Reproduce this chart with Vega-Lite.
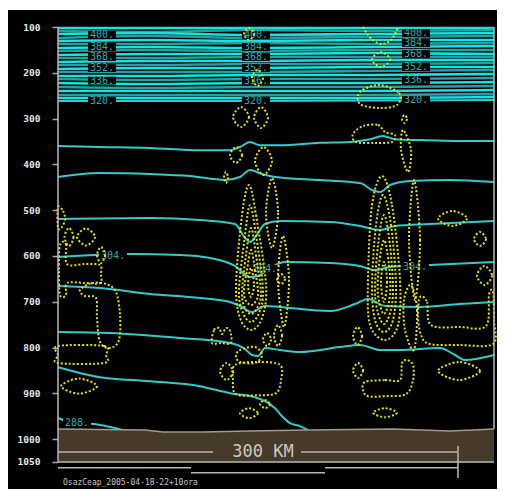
{
"$schema":"https://vega.github.io/schema/vega-lite/v6.json",
"width":489,"height":479,
"autosize":{"type":"none"},
"padding":{"left":8,"top":10,"right":8,"bottom":2},
"background":"white",
"config":{"view":{"fill":"black","stroke":null},"axisY":{"title":null}},
"datasets":{
"iso":[
{"id":"b1","c":"b","km":0,"p":102.2},{"id":"b1","c":"b","km":69,"p":102.2},{"id":"b1","c":"b","km":144,"p":102.2},{"id":"b1","c":"b","km":234,"p":102.2},{"id":"b1","c":"b","km":327,"p":102.2},
{"id":"b2","c":"d","km":0,"p":108.7},{"id":"b2","c":"d","km":69,"p":110.9},{"id":"b2","c":"d","km":144,"p":106.6},{"id":"b2","c":"d","km":234,"p":108.7},{"id":"b2","c":"d","km":327,"p":106.6},
{"id":"b3","c":"b","km":0,"p":115.3},{"id":"b3","c":"b","km":69,"p":113.1},{"id":"b3","c":"b","km":144,"p":117.5},{"id":"b3","c":"b","km":234,"p":115.3},{"id":"b3","c":"b","km":327,"p":113.1},
{"id":"b4","c":"d","km":0,"p":124},{"id":"b4","c":"d","km":69,"p":119.7},{"id":"b4","c":"d","km":144,"p":124},{"id":"b4","c":"d","km":234,"p":121.8},{"id":"b4","c":"d","km":327,"p":119.7},
{"id":"b5","c":"b","km":0,"p":130.6},{"id":"b5","c":"b","km":69,"p":128.4},{"id":"b5","c":"b","km":144,"p":130.6},{"id":"b5","c":"b","km":234,"p":128.4},{"id":"b5","c":"b","km":327,"p":128.4},
{"id":"b6","c":"d","km":0,"p":137.1},{"id":"b6","c":"d","km":69,"p":137.1},{"id":"b6","c":"d","km":144,"p":134.9},{"id":"b6","c":"d","km":234,"p":137.1},{"id":"b6","c":"d","km":327,"p":134.9},
{"id":"b7","c":"b","km":0,"p":145.9},{"id":"b7","c":"b","km":69,"p":143.7},{"id":"b7","c":"b","km":144,"p":145.9},{"id":"b7","c":"b","km":234,"p":143.7},{"id":"b7","c":"b","km":327,"p":141.5},
{"id":"b8","c":"d","km":0,"p":152.4},{"id":"b8","c":"d","km":69,"p":150.2},{"id":"b8","c":"d","km":144,"p":152.4},{"id":"b8","c":"d","km":234,"p":150.2},{"id":"b8","c":"d","km":327,"p":150.2},
{"id":"b9","c":"b","km":0,"p":161.2},{"id":"b9","c":"b","km":69,"p":159},{"id":"b9","c":"b","km":144,"p":159},{"id":"b9","c":"b","km":234,"p":156.8},{"id":"b9","c":"b","km":327,"p":159},
{"id":"b10","c":"d","km":0,"p":167.7},{"id":"b10","c":"d","km":69,"p":167.7},{"id":"b10","c":"d","km":144,"p":165.5},{"id":"b10","c":"d","km":234,"p":165.5},{"id":"b10","c":"d","km":327,"p":165.5},
{"id":"b11","c":"b","km":0,"p":176.4},{"id":"b11","c":"b","km":69,"p":174.3},{"id":"b11","c":"b","km":144,"p":174.3},{"id":"b11","c":"b","km":234,"p":172.1},{"id":"b11","c":"b","km":327,"p":172.1},
{"id":"b12","c":"d","km":0,"p":183},{"id":"b12","c":"d","km":69,"p":183},{"id":"b12","c":"d","km":144,"p":180.8},{"id":"b12","c":"d","km":234,"p":180.8},{"id":"b12","c":"d","km":327,"p":178.6},
{"id":"b13","c":"b","km":0,"p":191.7},{"id":"b13","c":"b","km":69,"p":189.5},{"id":"b13","c":"b","km":144,"p":189.5},{"id":"b13","c":"b","km":234,"p":187.4},{"id":"b13","c":"b","km":327,"p":187.4},
{"id":"b14","c":"d","km":0,"p":198.3},{"id":"b14","c":"d","km":69,"p":198.3},{"id":"b14","c":"d","km":144,"p":198.3},{"id":"b14","c":"d","km":234,"p":196.1},{"id":"b14","c":"d","km":327,"p":193.9},
{"id":"b15","c":"b","km":0,"p":207},{"id":"b15","c":"b","km":69,"p":207},{"id":"b15","c":"b","km":144,"p":204.8},{"id":"b15","c":"b","km":234,"p":204.8},{"id":"b15","c":"b","km":327,"p":202.6},
{"id":"b16","c":"d","km":0,"p":213.6},{"id":"b16","c":"d","km":69,"p":215.8},{"id":"b16","c":"d","km":144,"p":213.6},{"id":"b16","c":"d","km":234,"p":213.6},{"id":"b16","c":"d","km":327,"p":211.4},
{"id":"b17","c":"b","km":0,"p":222.3},{"id":"b17","c":"b","km":69,"p":224.5},{"id":"b17","c":"b","km":144,"p":222.3},{"id":"b17","c":"b","km":234,"p":222.3},{"id":"b17","c":"b","km":327,"p":220.1},
{"id":"b18","c":"d","km":0,"p":231},{"id":"b18","c":"d","km":69,"p":233.2},{"id":"b18","c":"d","km":144,"p":231},{"id":"b18","c":"d","km":234,"p":231},{"id":"b18","c":"d","km":327,"p":228.9},
{"id":"b19","c":"b","km":0,"p":239.8},{"id":"b19","c":"b","km":69,"p":239.8},{"id":"b19","c":"b","km":144,"p":239.8},{"id":"b19","c":"b","km":234,"p":239.8},{"id":"b19","c":"b","km":327,"p":237.6},
{"id":"b20","c":"d","km":0,"p":248.5},{"id":"b20","c":"d","km":69,"p":248.5},{"id":"b20","c":"d","km":144,"p":248.5},{"id":"b20","c":"d","km":234,"p":248.5},{"id":"b20","c":"d","km":327,"p":246.3},
{"id":"b21","c":"b","km":0,"p":255.1},{"id":"b21","c":"b","km":69,"p":255.1},{"id":"b21","c":"b","km":144,"p":255.1},{"id":"b21","c":"b","km":234,"p":255.1},{"id":"b21","c":"b","km":327,"p":252.9},
{"id":"mA","c":"m","km":0,"p":261.6},{"id":"mA","c":"m","km":144,"p":261.6},{"id":"mA","c":"m","km":327,"p":259.4},
{"id":"mB","c":"m","km":0,"p":360},{"id":"mB","c":"m","km":31.5,"p":362},{"id":"mB","c":"m","km":69,"p":364},{"id":"mB","c":"m","km":106.5,"p":369},{"id":"mB","c":"m","km":129,"p":369},{"id":"mB","c":"m","km":136.5,"p":362},{"id":"mB","c":"m","km":144,"p":351},{"id":"mB","c":"m","km":151.5,"p":358},{"id":"mB","c":"m","km":166.5,"p":358},{"id":"mB","c":"m","km":196.5,"p":353},{"id":"mB","c":"m","km":219,"p":351},{"id":"mB","c":"m","km":234,"p":345},{"id":"mB","c":"m","km":243.75,"p":338},{"id":"mB","c":"m","km":252.75,"p":345},{"id":"mB","c":"m","km":271.5,"p":347},{"id":"mB","c":"m","km":301.5,"p":349},{"id":"mB","c":"m","km":327,"p":349},
{"id":"mC","c":"m","km":0,"p":427.6},{"id":"mC","c":"m","km":31.5,"p":418.8},{"id":"mC","c":"m","km":69,"p":421},{"id":"mC","c":"m","km":99,"p":425.4},{"id":"mC","c":"m","km":125.25,"p":434.1},{"id":"mC","c":"m","km":136.5,"p":427.6},{"id":"mC","c":"m","km":144,"p":412.3},{"id":"mC","c":"m","km":153,"p":421},{"id":"mC","c":"m","km":162.75,"p":427.6},{"id":"mC","c":"m","km":196.5,"p":434.1},{"id":"mC","c":"m","km":226.5,"p":440.7},{"id":"mC","c":"m","km":235.5,"p":456},{"id":"mC","c":"m","km":241.5,"p":460.4},{"id":"mC","c":"m","km":249,"p":445.1},{"id":"mC","c":"m","km":264,"p":436.3},{"id":"mC","c":"m","km":294,"p":434.1},{"id":"mC","c":"m","km":327,"p":438.5},
{"id":"mD","c":"m","km":0,"p":519.3},{"id":"mD","c":"m","km":69,"p":517.1},{"id":"mD","c":"m","km":106.5,"p":521.5},{"id":"mD","c":"m","km":132.75,"p":530.2},{"id":"mD","c":"m","km":140.25,"p":560.8},{"id":"mD","c":"m","km":144,"p":569.5},{"id":"mD","c":"m","km":148.5,"p":556.4},{"id":"mD","c":"m","km":155.25,"p":530.2},{"id":"mD","c":"m","km":166.5,"p":523.7},{"id":"mD","c":"m","km":204,"p":525.9},{"id":"mD","c":"m","km":226.5,"p":534.6},{"id":"mD","c":"m","km":241.5,"p":543.3},{"id":"mD","c":"m","km":252.75,"p":534.6},{"id":"mD","c":"m","km":279,"p":530.2},{"id":"mD","c":"m","km":327,"p":523.7},
{"id":"mE","c":"m","km":0,"p":602.3},{"id":"mE","c":"m","km":27.75,"p":597.9},{"id":"mE","c":"m","km":54,"p":595.8},{"id":"mE","c":"m","km":91.5,"p":597.9},{"id":"mE","c":"m","km":114,"p":604.5},{"id":"mE","c":"m","km":132.75,"p":621.9},{"id":"mE","c":"m","km":144,"p":646},{"id":"mE","c":"m","km":150,"p":643.8},{"id":"mE","c":"m","km":159,"p":626.3},{"id":"mE","c":"m","km":170.25,"p":613.2},{"id":"mE","c":"m","km":204,"p":615.4},{"id":"mE","c":"m","km":226.5,"p":621.9},{"id":"mE","c":"m","km":237.75,"p":630.7},{"id":"mE","c":"m","km":249,"p":624.1},{"id":"mE","c":"m","km":279,"p":619.8},{"id":"mE","c":"m","km":327,"p":613.2},
{"id":"mF","c":"m","km":0,"p":665.6},{"id":"mF","c":"m","km":31.5,"p":670},{"id":"mF","c":"m","km":69,"p":683.1},{"id":"mF","c":"m","km":106.5,"p":691.8},{"id":"mF","c":"m","km":129,"p":700.6},{"id":"mF","c":"m","km":136.5,"p":709.3},{"id":"mF","c":"m","km":145.5,"p":722.4},{"id":"mF","c":"m","km":155.25,"p":709.3},{"id":"mF","c":"m","km":166.5,"p":711.5},{"id":"mF","c":"m","km":204,"p":720.3},{"id":"mF","c":"m","km":222.75,"p":705},{"id":"mF","c":"m","km":232.5,"p":694},{"id":"mF","c":"m","km":245.25,"p":709.3},{"id":"mF","c":"m","km":271.5,"p":711.5},{"id":"mF","c":"m","km":301.5,"p":705},{"id":"mF","c":"m","km":327,"p":700.6},
{"id":"mG","c":"m","km":0,"p":766.1},{"id":"mG","c":"m","km":39,"p":768.3},{"id":"mG","c":"m","km":91.5,"p":779.2},{"id":"mG","c":"m","km":129,"p":790.1},{"id":"mG","c":"m","km":140.25,"p":803.2},{"id":"mG","c":"m","km":145.5,"p":816.3},{"id":"mG","c":"m","km":150,"p":818.5},{"id":"mG","c":"m","km":155.25,"p":801},{"id":"mG","c":"m","km":166.5,"p":805.4},{"id":"mG","c":"m","km":181.5,"p":809.8},{"id":"mG","c":"m","km":211.5,"p":798.9},{"id":"mG","c":"m","km":226.5,"p":794.5},{"id":"mG","c":"m","km":241.5,"p":805.4},{"id":"mG","c":"m","km":256.5,"p":805.4},{"id":"mG","c":"m","km":286.5,"p":801},{"id":"mG","c":"m","km":297.75,"p":816.3},{"id":"mG","c":"m","km":305.25,"p":827.3},{"id":"mG","c":"m","km":327,"p":816.3},
{"id":"mH","c":"m","km":0,"p":842.9},{"id":"mH","c":"m","km":31.5,"p":864.8},{"id":"mH","c":"m","km":69,"p":873.5},{"id":"mH","c":"m","km":106.5,"p":884.4},{"id":"mH","c":"m","km":129,"p":899.7},{"id":"mH","c":"m","km":147.75,"p":908.5},{"id":"mH","c":"m","km":155.25,"p":917.2},{"id":"mH","c":"m","km":162.75,"p":932.5},{"id":"mH","c":"m","km":168,"p":950},{"id":"mH","c":"m","km":174,"p":965.3},{"id":"mH","c":"m","km":181.5,"p":971.8},{"id":"mH","c":"m","km":187.5,"p":980.6},
{"id":"mI","c":"m","km":0,"p":953.9},{"id":"mI","c":"m","km":6,"p":960.5},{"id":"mI","c":"m","km":16.5,"p":964.8},{"id":"mI","c":"m","km":27,"p":967},{"id":"mI","c":"m","km":39,"p":973.6},{"id":"mI","c":"m","km":49.5,"p":980.6}
],
"lbl":[
{"t":"400.","km":33,"p":117.5},{"t":"384.","km":33,"p":143.7},{"t":"368.","km":33,"p":165.5},{"t":"352.","km":33,"p":189.5},{"t":"336.","km":33,"p":217},{"t":"320.","km":33,"p":261.6},
{"t":"400.","km":148.5,"p":117.5},{"t":"384.","km":148.5,"p":143.7},{"t":"368.","km":148.5,"p":165.5},{"t":"352.","km":148.5,"p":189.5},{"t":"336.","km":148.5,"p":217},{"t":"320.","km":148.5,"p":261.6},
{"t":"400.","km":268.5,"p":113.1},{"t":"384.","km":268.5,"p":134.9},{"t":"368.","km":268.5,"p":159},{"t":"352.","km":268.5,"p":187.4},{"t":"336.","km":268.5,"p":215.8},{"t":"320.","km":268.5,"p":259.4},
{"t":"304.","km":41.25,"p":600},{"t":"304.","km":155.25,"p":628},{"t":"304.","km":267.75,"p":624},{"t":"288.","km":14.25,"p":964.8}
],
"w":[
{"id":"W1","km":0,"p":493.1},{"id":"W1","km":3.75,"p":501.8},{"id":"W1","km":5.25,"p":519.3},{"id":"W1","km":3,"p":536.8},{"id":"W1","km":0,"p":539},
{"id":"W2","km":8.25,"p":539},{"id":"W2","km":11.6,"p":558.6},{"id":"W2","km":8.25,"p":578.3},{"id":"W2","km":4.9,"p":558.6},
{"id":"W3","km":21,"p":540.1},{"id":"W3","km":27.75,"p":558.6},{"id":"W3","km":21,"p":577.2},{"id":"W3","km":14.25,"p":558.6},
{"id":"W4","km":1.5,"p":576.1},{"id":"W4","km":6,"p":573.9},{"id":"W4","km":6.75,"p":617.6},{"id":"W4","km":20.25,"p":617.6},{"id":"W4","km":31.5,"p":619.8},{"id":"W4","km":32.25,"p":639.4},{"id":"W4","km":31.5,"p":659.1},{"id":"W4","km":20.25,"p":659.1},{"id":"W4","km":6.75,"p":659.1},{"id":"W4","km":6,"p":685.3},{"id":"W4","km":1.5,"p":685.3},{"id":"W4","km":0.75,"p":630.7},
{"id":"W5","km":32.25,"p":580.4},{"id":"W5","km":35.25,"p":597.9},{"id":"W5","km":32.25,"p":615.4},{"id":"W5","km":29.25,"p":597.9},
{"id":"W6","km":16.5,"p":674.4},{"id":"W6","km":25.5,"p":659.1},{"id":"W6","km":36,"p":661.3},{"id":"W6","km":43.5,"p":678.8},{"id":"W6","km":46.5,"p":729},{"id":"W6","km":45.75,"p":783.6},{"id":"W6","km":39,"p":801},{"id":"W6","km":31.5,"p":787.9},{"id":"W6","km":29.25,"p":735.5},{"id":"W6","km":28.5,"p":691.8},{"id":"W6","km":20.25,"p":687.5},
{"id":"W7","km":0,"p":796.7},{"id":"W7","km":34.5,"p":796.7},{"id":"W7","km":36,"p":816.3},{"id":"W7","km":34.5,"p":833.8},{"id":"W7","km":0,"p":833.8},{"id":"W7","km":0,"p":816.3},
{"id":"W8","km":15.75,"p":867.7},{"id":"W8","km":29.25,"p":884.4},{"id":"W8","km":15.75,"p":900.8},{"id":"W8","km":2.25,"p":884.4},
{"id":"M0a","km":143.25,"p":102.2},{"id":"M0a","km":147,"p":115.3},{"id":"M0a","km":143.25,"p":128.4},{"id":"M0a","km":139.5,"p":115.3},
{"id":"M0b","km":149.6,"p":193.9},{"id":"M0b","km":153.75,"p":211.4},{"id":"M0b","km":149.6,"p":228.9},{"id":"M0b","km":145.5,"p":211.4},
{"id":"M1","km":137.25,"p":274.7},{"id":"M1","km":143.25,"p":296.5},{"id":"M1","km":137.25,"p":318.4},{"id":"M1","km":131.25,"p":296.5},
{"id":"M2","km":152.25,"p":274.7},{"id":"M2","km":157.5,"p":297.6},{"id":"M2","km":152.25,"p":320.6},{"id":"M2","km":147,"p":297.6},
{"id":"M3","km":133.5,"p":362},{"id":"M3","km":138,"p":379.5},{"id":"M3","km":133.5,"p":397},{"id":"M3","km":129,"p":379.5},
{"id":"M4","km":154.1,"p":362},{"id":"M4","km":160.5,"p":392.6},{"id":"M4","km":154.1,"p":423.2},{"id":"M4","km":147.75,"p":392.6},
{"id":"M5a","km":143.25,"p":445.1},{"id":"M5a","km":148.5,"p":510.6},{"id":"M5a","km":156,"p":663.5},{"id":"M5a","km":153,"p":735.5},{"id":"M5a","km":144.75,"p":761.8},{"id":"M5a","km":136.5,"p":735.5},{"id":"M5a","km":133.5,"p":663.5},{"id":"M5a","km":138,"p":510.6},
{"id":"M5b","km":144,"p":489.1},{"id":"M5b","km":148.5,"p":554.3},{"id":"M5b","km":153.75,"p":674.4},{"id":"M5b","km":150.75,"p":724.6},{"id":"M5b","km":144.75,"p":744.3},{"id":"M5b","km":138.75,"p":724.6},{"id":"M5b","km":135.75,"p":674.4},{"id":"M5b","km":140.25,"p":554.3},
{"id":"M5c","km":144.75,"p":539},{"id":"M5c","km":148.5,"p":597.9},{"id":"M5c","km":152.25,"p":680.9},{"id":"M5c","km":149.25,"p":713.7},{"id":"M5c","km":144.75,"p":726.8},{"id":"M5c","km":140.25,"p":713.7},{"id":"M5c","km":138,"p":680.9},{"id":"M5c","km":141,"p":597.9},
{"id":"M5d","km":144.75,"p":587},{"id":"M5d","km":147.75,"p":630.7},{"id":"M5d","km":150,"p":685.3},{"id":"M5d","km":144.75,"p":707.2},{"id":"M5d","km":139.5,"p":685.3},{"id":"M5d","km":141.75,"p":630.7},
{"id":"M5e","km":144.75,"p":626.3},{"id":"M5e","km":147,"p":663.5},{"id":"M5e","km":144.75,"p":689.6},{"id":"M5e","km":142.5,"p":663.5},
{"id":"M6","km":160.5,"p":429.8},{"id":"M6","km":165,"p":506.2},{"id":"M6","km":160.5,"p":582.6},{"id":"M6","km":156,"p":506.2},
{"id":"M7","km":168.75,"p":556.4},{"id":"M7","km":173.25,"p":652.5},{"id":"M7","km":169.5,"p":755.2},{"id":"M7","km":165,"p":652.5},
{"id":"M8","km":167.25,"p":639.4},{"id":"M8","km":170.25,"p":650.3},{"id":"M8","km":167.25,"p":661.3},{"id":"M8","km":164.25,"p":650.3},
{"id":"M9","km":115.5,"p":790.1},{"id":"M9","km":117,"p":761.8},{"id":"M9","km":120.75,"p":757.4},{"id":"M9","km":123,"p":770.5},{"id":"M9","km":126,"p":757.4},{"id":"M9","km":129,"p":764},{"id":"M9","km":129.75,"p":790.1},{"id":"M9","km":122.25,"p":790.1},
{"id":"M10","km":136.5,"p":805.4},{"id":"M10","km":147.75,"p":798.9},{"id":"M10","km":153,"p":816.3},{"id":"M10","km":147.75,"p":833.8},{"id":"M10","km":136.5,"p":831.6},{"id":"M10","km":133.5,"p":818.5},
{"id":"M11","km":126.4,"p":833.8},{"id":"M11","km":131.25,"p":852.3},{"id":"M11","km":126.4,"p":871},{"id":"M11","km":121.5,"p":852.3},
{"id":"M12","km":132.75,"p":838.2},{"id":"M12","km":150,"p":831.6},{"id":"M12","km":166.5,"p":838.2},{"id":"M12","km":167.25,"p":871},{"id":"M12","km":163.5,"p":899.7},{"id":"M12","km":150,"p":904.1},{"id":"M12","km":133.5,"p":901.9},{"id":"M12","km":131.25,"p":871},
{"id":"M13","km":143.25,"p":932.5},{"id":"M13","km":150,"p":943.4},{"id":"M13","km":143.25,"p":954.3},{"id":"M13","km":136.5,"p":943.4},
{"id":"M13b","km":155.25,"p":914.6},{"id":"M13b","km":159,"p":923.4},{"id":"M13b","km":155.25,"p":932.5},{"id":"M13b","km":151.5,"p":923.4},
{"id":"M14","km":156.75,"p":768.3},{"id":"M14","km":159.75,"p":782.5},{"id":"M14","km":156.75,"p":796.7},{"id":"M14","km":153.75,"p":782.5},
{"id":"M15","km":165,"p":750.8},{"id":"M15","km":168,"p":773.8},{"id":"M15","km":165,"p":796.7},{"id":"M15","km":162,"p":773.8},
{"id":"T1","km":126,"p":416.7},{"id":"T1","km":127.5,"p":428.7},{"id":"T1","km":126,"p":440.7},{"id":"T1","km":124.5,"p":428.7},
{"id":"R2","km":242.25,"p":154.6},{"id":"R2","km":249,"p":170.9},{"id":"R2","km":242.25,"p":187.4},{"id":"R2","km":235.5,"p":170.9},
{"id":"R3","km":240.75,"p":226.7},{"id":"R3","km":255.75,"p":244.1},{"id":"R3","km":254.25,"p":270.3},{"id":"R3","km":240.75,"p":276.9},{"id":"R3","km":226.5,"p":268.1},{"id":"R3","km":226.5,"p":241.9},
{"id":"R4","km":259.9,"p":292.2},{"id":"R4","km":261.75,"p":300.9},{"id":"R4","km":259.9,"p":309.6},{"id":"R4","km":258,"p":300.9},
{"id":"R5","km":228.75,"p":316.2},{"id":"R5","km":240,"p":314},{"id":"R5","km":245.25,"p":329.3},{"id":"R5","km":252.75,"p":335.9},{"id":"R5","km":250.5,"p":351.1},{"id":"R5","km":237.75,"p":353.3},{"id":"R5","km":223.5,"p":351.1},{"id":"R5","km":221.25,"p":333.7},
{"id":"R6","km":258.75,"p":324.9},{"id":"R6","km":264.75,"p":368.6},{"id":"R6","km":262.5,"p":416.7},{"id":"R6","km":257.25,"p":368.6},
{"id":"R7a","km":243,"p":425.4},{"id":"R7a","km":250.5,"p":489.1},{"id":"R7a","km":256.5,"p":652.5},{"id":"R7a","km":255,"p":750.8},{"id":"R7a","km":245.25,"p":783.6},{"id":"R7a","km":234,"p":750.8},{"id":"R7a","km":232.5,"p":652.5},{"id":"R7a","km":235.5,"p":489.1},
{"id":"R7b","km":243.75,"p":466.9},{"id":"R7b","km":249.75,"p":532.4},{"id":"R7b","km":253.5,"p":663.5},{"id":"R7b","km":251.25,"p":739.9},{"id":"R7b","km":244.5,"p":766.1},{"id":"R7b","km":237.75,"p":739.9},{"id":"R7b","km":235.5,"p":663.5},{"id":"R7b","km":238.5,"p":532.4},
{"id":"R7c","km":244.5,"p":510.6},{"id":"R7c","km":249,"p":576.1},{"id":"R7c","km":251.25,"p":674.4},{"id":"R7c","km":249,"p":724.6},{"id":"R7c","km":244.5,"p":748.6},{"id":"R7c","km":240,"p":724.6},{"id":"R7c","km":237.75,"p":674.4},{"id":"R7c","km":240,"p":576.1},
{"id":"R7d","km":244.5,"p":565.2},{"id":"R7d","km":248.25,"p":619.8},{"id":"R7d","km":249,"p":685.3},{"id":"R7d","km":244.5,"p":726.8},{"id":"R7d","km":240,"p":685.3},{"id":"R7d","km":240.75,"p":619.8},
{"id":"R7e","km":244.5,"p":613.2},{"id":"R7e","km":246.75,"p":656.9},{"id":"R7e","km":244.5,"p":700.6},{"id":"R7e","km":242.25,"p":656.9},
{"id":"R8a","km":267,"p":434.1},{"id":"R8a","km":271.5,"p":565.2},{"id":"R8a","km":267.75,"p":696.2},{"id":"R8a","km":263.25,"p":565.2},
{"id":"R8b","km":264.75,"p":663.5},{"id":"R8b","km":269.25,"p":718.1},{"id":"R8b","km":267,"p":805.4},{"id":"R8b","km":260.25,"p":761.8},{"id":"R8b","km":259.5,"p":696.2},
{"id":"R9","km":271.5,"p":689.6},{"id":"R9","km":276.75,"p":700.6},{"id":"R9","km":279.75,"p":750.8},{"id":"R9","km":301.5,"p":755.2},{"id":"R9","km":321,"p":753},{"id":"R9","km":323.25,"p":685.3},{"id":"R9","km":326.25,"p":678.8},{"id":"R9","km":327,"p":739.9},{"id":"R9","km":326.25,"p":792.3},{"id":"R9","km":301.5,"p":794.5},{"id":"R9","km":279,"p":792.3},{"id":"R9","km":272.25,"p":772.7},{"id":"R9","km":270,"p":729},
{"id":"R10","km":295.9,"p":501.8},{"id":"R10","km":306.75,"p":518.2},{"id":"R10","km":295.9,"p":534.6},{"id":"R10","km":285,"p":518.2},
{"id":"R11","km":316.5,"p":547.7},{"id":"R11","km":321,"p":563},{"id":"R11","km":316.5,"p":578.3},{"id":"R11","km":312,"p":563},
{"id":"R12","km":319.9,"p":621.9},{"id":"R12","km":325.5,"p":642.7},{"id":"R12","km":319.9,"p":663.5},{"id":"R12","km":314.25,"p":642.7},
{"id":"R13","km":224.6,"p":755.2},{"id":"R13","km":228,"p":775},{"id":"R13","km":224.6,"p":794.5},{"id":"R13","km":221.25,"p":775},
{"id":"R14","km":225,"p":833.8},{"id":"R14","km":228.75,"p":850.1},{"id":"R14","km":225,"p":866.6},{"id":"R14","km":221.25,"p":850.1},
{"id":"R15","km":230.25,"p":875.3},{"id":"R15","km":245.25,"p":871},{"id":"R15","km":256.5,"p":871},{"id":"R15","km":258,"p":833.8},{"id":"R15","km":261.75,"p":827.3},{"id":"R15","km":266.25,"p":838.2},{"id":"R15","km":266.25,"p":871},{"id":"R15","km":261,"p":901.9},{"id":"R15","km":245.25,"p":906.3},{"id":"R15","km":232.5,"p":906.3},{"id":"R15","km":228.75,"p":893.2},
{"id":"R16","km":300.75,"p":831.6},{"id":"R16","km":316.5,"p":851.2},{"id":"R16","km":300.75,"p":871},{"id":"R16","km":285,"p":851.2},
{"id":"R17","km":245.25,"p":932.5},{"id":"R17","km":254.25,"p":942.3},{"id":"R17","km":245.25,"p":952.2},{"id":"R17","km":236.25,"p":942.3}
],
"wopen":[
{"id":"R1","km":228.75,"p":100},{"id":"R1","km":232.5,"p":117.5},{"id":"R1","km":237,"p":130.6},{"id":"R1","km":243,"p":137.1},{"id":"R1","km":249,"p":130.6},{"id":"R1","km":252.75,"p":115.3},{"id":"R1","km":255,"p":100}
],
"sfc":[
{"km":0,"p":978},{"km":65.25,"p":980.2},{"km":78.75,"p":984.5},{"km":108.75,"p":984.5},{"km":144,"p":982.4},{"km":187.5,"p":980.2},{"km":251.25,"p":978},{"km":294,"p":982.4},{"km":327,"p":978}
],
"gray":[
{"km":0,"km2":0,"p":100,"p2":1050},
{"km":327,"km2":327,"p":100,"p2":978},
{"km":0,"km2":327,"p":1050,"p2":1050},
{"km":0,"km2":116.25,"p":1028.2,"p2":1028.2},
{"km":182.25,"km2":299.25,"p":1028.2,"p2":1028.2},
{"km":300,"km2":300,"p":1015,"p2":1085},
{"km":0,"km2":99.75,"p":1062.5,"p2":1062.5},
{"km":99.75,"km2":200.25,"p":1073.5,"p2":1073.5},
{"km":200.25,"km2":300,"p":1062.5,"p2":1062.5}
],
"scale":[{"t":"300 KM","km":153.75,"p":1028.2}],
"cap":[{"t":"OsazCeap_2005-04-18-22+10ora","km":3.75,"p":1096}]
},
"layer":[
{"data":{"name":"iso"},"transform":[{"filter":"datum.c != 'm'"}],"mark":{"type":"line","interpolate":"monotone","strokeWidth":2.6},
 "encoding":{
  "x":{"field":"km","type":"quantitative","scale":{"domain":[-37.5,329.25],"nice":false,"zero":false},"axis":null},
  "y":{"field":"p","type":"quantitative","scale":{"domain":[62.87,1108.97],"nice":false,"zero":false,"reverse":true},
   "axis":{"values":[100,200,300,400,500,600,700,800,900,1000,1050],"format":"d","title":null,"domain":false,"grid":false,"offset":-50,"tickSize":6,"tickColor":"#a8a8a8","tickWidth":1.5,"labelColor":"#e6e6e6","labelFont":"DejaVu Sans Mono","labelFontSize":9.5,"labelFontWeight":"bold","labelPadding":12,"labelOverlap":false}},
  "detail":{"field":"id"},
  "color":{"field":"c","type":"nominal","scale":{"domain":["b","d","m"],"range":["#14e4e4","#2c9c9c","#34caca"]},"legend":null},
  "order":{"value":null}}},
{"data":{"name":"iso"},"transform":[{"filter":"datum.c == 'm'"}],"mark":{"type":"line","interpolate":"monotone","strokeWidth":2},
 "encoding":{
  "x":{"field":"km","type":"quantitative"},
  "y":{"field":"p","type":"quantitative"},
  "detail":{"field":"id"},
  "color":{"field":"c","type":"nominal","legend":null},
  "order":{"value":null}}},
{"data":{"name":"lbl"},"mark":{"type":"point","shape":"M-1,-0.28H1V0.28H-1Z","filled":true,"color":"black","size":784,"opacity":1,"strokeWidth":0},
 "encoding":{"x":{"field":"km","type":"quantitative"},"y":{"field":"p","type":"quantitative"}}},
{"data":{"name":"lbl"},"mark":{"type":"text","font":"DejaVu Sans Mono","fontSize":10,"color":"#3aa8a8","align":"center","baseline":"middle"},
 "encoding":{"x":{"field":"km","type":"quantitative"},"y":{"field":"p","type":"quantitative"},"text":{"field":"t"}}},
{"data":{"name":"w"},"mark":{"type":"line","interpolate":"cardinal-closed","strokeWidth":2,"strokeDash":[2,2],"color":"#e2e21c"},
 "encoding":{"x":{"field":"km","type":"quantitative"},"y":{"field":"p","type":"quantitative"},"detail":{"field":"id"},"order":{"value":null}}},
{"data":{"name":"wopen"},"mark":{"type":"line","interpolate":"cardinal","strokeWidth":2,"strokeDash":[2,2],"color":"#e2e21c"},
 "encoding":{"x":{"field":"km","type":"quantitative"},"y":{"field":"p","type":"quantitative"},"detail":{"field":"id"},"order":{"value":null}}},
{"data":{"name":"sfc"},"mark":{"type":"area","color":"#463a2b","opacity":1},
 "encoding":{"x":{"field":"km","type":"quantitative"},"y":{"field":"p","type":"quantitative"},"y2":{"datum":1050}}},
{"data":{"name":"sfc"},"mark":{"type":"line","color":"#a09a90","strokeWidth":1.5},
 "encoding":{"x":{"field":"km","type":"quantitative"},"y":{"field":"p","type":"quantitative"}}},
{"data":{"name":"gray"},"mark":{"type":"rule","color":"#b8b8b8","strokeWidth":1.5},
 "encoding":{"x":{"field":"km","type":"quantitative"},"x2":{"field":"km2"},"y":{"field":"p","type":"quantitative"},"y2":{"field":"p2"}}},
{"data":{"name":"scale"},"mark":{"type":"text","font":"DejaVu Sans Mono","fontSize":17,"color":"#cdc8bf","align":"center","baseline":"middle"},
 "encoding":{"x":{"field":"km","type":"quantitative"},"y":{"field":"p","type":"quantitative"},"text":{"field":"t"}}},
{"data":{"name":"cap"},"mark":{"type":"text","font":"DejaVu Sans Mono","fontSize":8,"color":"#c8c8c8","align":"left","baseline":"middle"},
 "encoding":{"x":{"field":"km","type":"quantitative"},"y":{"field":"p","type":"quantitative"},"text":{"field":"t"}}}
]
}
